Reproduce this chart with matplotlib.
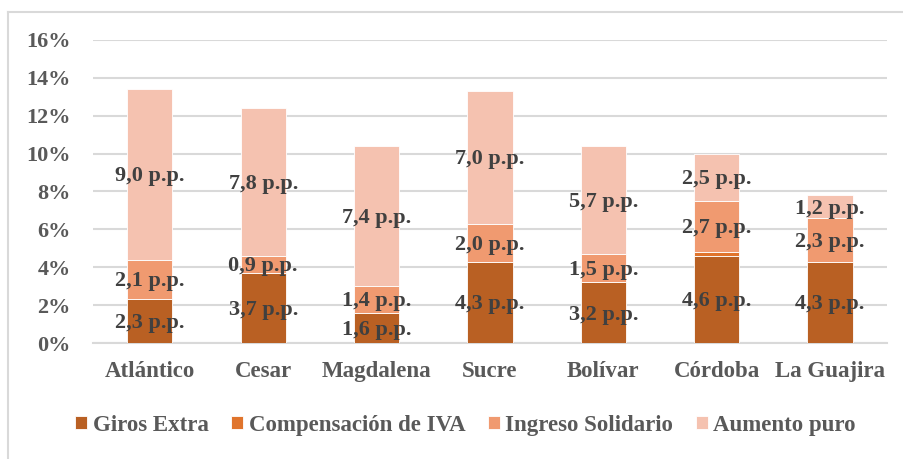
import numpy as np
import matplotlib.pyplot as plt
from matplotlib.lines import Line2D

departamentos = ['Atlántico', 'Cesar', 'Magdalena', 'Sucre', 'Bolívar', 'Córdoba', 'La Guajira']
giros_extra = [2.3, 3.7, 1.6, 4.3, 3.2, 4.6, 4.3]
compensacion_iva = [0.0, 0.0, 0.0, 0.0, 0.0, 0.2, 0.0]
ingreso_solidario = [2.1, 0.9, 1.4, 2.0, 1.5, 2.7, 2.3]
aumento_puro = [9.0, 7.8, 7.4, 7.0, 5.7, 2.5, 1.2]
y_ticks = [0, 2, 4, 6, 8, 10, 12, 14, 16]

series = [
    ('Giros Extra', giros_extra, '#B96023', True),
    ('Compensación de IVA', compensacion_iva, '#E0742C', False),
    ('Ingreso Solidario', ingreso_solidario, '#F09A70', True),
    ('Aumento puro', aumento_puro, '#F5C2B0', True),
]

plt.rcParams['font.family'] = ['Liberation Serif', 'DejaVu Serif']
plt.rcParams['font.weight'] = 'bold'

fig = plt.figure(figsize=(9.04, 4.59), dpi=100)
ax = fig.add_axes([0.103, 0.2527, 0.878, 0.6602])

x = np.arange(len(departamentos))
bottom = np.zeros(len(departamentos))
for name, vals, color, show in series:
    vals = np.array(vals)
    ax.bar(x, vals, 0.4, bottom=bottom, color=color, edgecolor='white',
           linewidth=0.6, label=name, zorder=3)
    if show:
        for xi, b, v in zip(x, bottom, vals):
            txt = '{:.1f}'.format(v).replace('.', ',') + ' p.p.'
            ax.text(xi, b + v / 2 - 0.1, txt, ha='center', va='center', fontsize=16,
                    fontweight='bold', color='#404040', zorder=4)
    bottom += vals

ax.set_xlim(-0.5, len(departamentos) - 0.5)
ax.set_ylim(0, 16)
ax.set_yticks(y_ticks)
ax.set_yticklabels(['{}%'.format(t) for t in y_ticks], fontsize=16,
                   fontweight='bold', color='#595959')
ax.set_xticks(x)
ax.set_xticklabels(departamentos, fontsize=16.5, fontweight='bold', color='#595959')
ax.tick_params(axis='y', length=0, pad=16)
ax.tick_params(axis='x', length=0, pad=13)
ax.yaxis.grid(True, color='#D9D9D9', linewidth=1.5, zorder=0)
for s in ['top', 'right', 'left']:
    ax.spines[s].set_visible(False)
ax.spines['bottom'].set_color('#D9D9D9')
ax.spines['bottom'].set_linewidth(1.5)

fig.legend(loc='center', bbox_to_anchor=(0.515, 0.074), ncol=4, frameon=False,
           prop={'size': 16.5, 'weight': 'bold'}, handlelength=0.5, handleheight=0.5,
           handletextpad=0.25, columnspacing=1.0, labelcolor='#595959')

# marco del gráfico (solo visible arriba y a la izquierda)
fig.add_artist(Line2D([8 / 904, 8 / 904], [0, 1 - 12 / 459], color='#D9D9D9', linewidth=1.5))
fig.add_artist(Line2D([8 / 904, 1], [1 - 12 / 459, 1 - 12 / 459], color='#D9D9D9', linewidth=1.5))

fig.savefig('out.png', dpi=100)
